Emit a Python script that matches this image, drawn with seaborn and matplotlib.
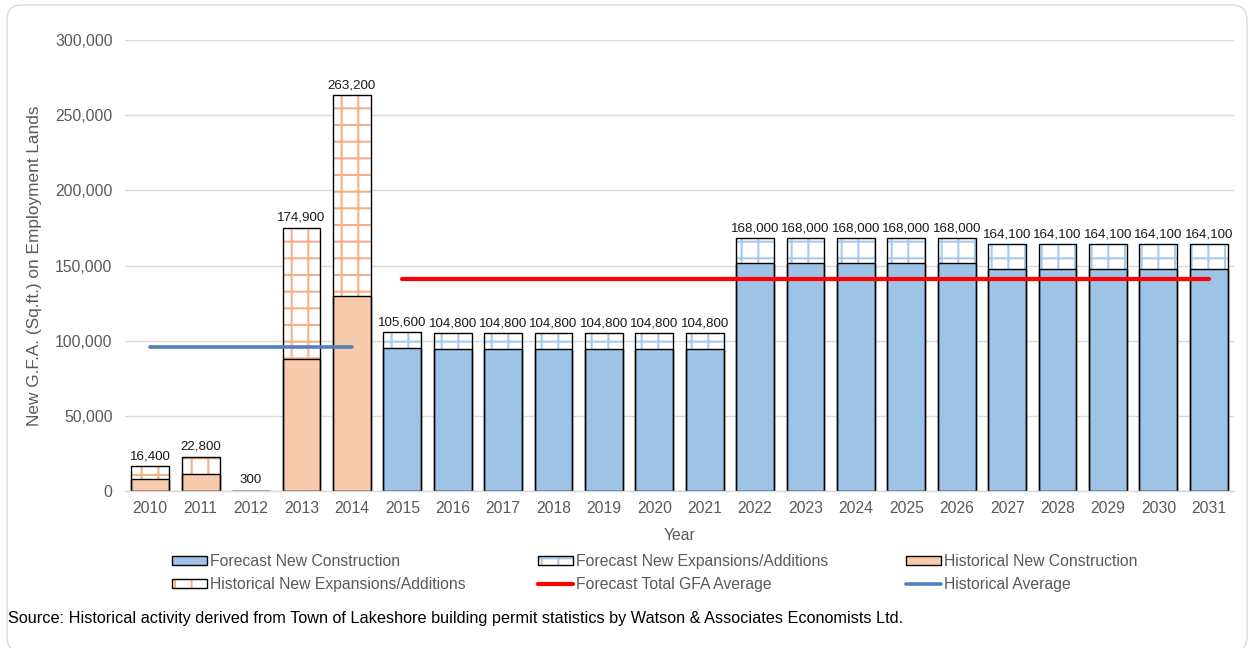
import matplotlib
matplotlib.use("Agg")
import matplotlib.pyplot as plt
from matplotlib.patches import Patch, FancyBboxPatch
from matplotlib.lines import Line2D
from matplotlib.legend_handler import HandlerTuple
from matplotlib.ticker import FixedLocator, FuncFormatter
import numpy as np
import pandas as pd
import seaborn as sns

# ---- data -------------------------------------------------------------
years = [str(y) for y in range(2010, 2032)]
period = ["Historical"] * 5 + ["Forecast"] * 17
new_construction = [8200, 11100, 0, 87500, 129700,
                    95200, 94400, 94400, 94400, 94400, 94400, 94400,
                    151400, 151400, 151400, 151400, 151400,
                    147800, 147800, 147800, 147800, 147800]
expansions = [8200, 11700, 300, 87400, 133500,
              10400, 10400, 10400, 10400, 10400, 10400, 10400,
              16600, 16600, 16600, 16600, 16600,
              16300, 16300, 16300, 16300, 16300]
y_ticks = [0, 50000, 100000, 150000, 200000, 250000, 300000]
source_note = ("Source: Historical activity derived from Town of Lakeshore building "
               "permit statistics by Watson & Associates Economists Ltd.")

df = pd.DataFrame({"year": years, "period": period,
                   "new_construction": new_construction,
                   "expansions": expansions})
df["total"] = df["new_construction"] + df["expansions"]
hist_avg = df.loc[df.period == "Historical", "total"].mean()
fcst_avg = df.loc[df.period == "Forecast", "total"].mean()

# ---- style ------------------------------------------------------------
sns.set_style("white")
plt.rcParams["font.family"] = ["Liberation Sans", "DejaVu Sans"]
plt.rcParams["hatch.linewidth"] = 1.5

BLUE = "#9DC3E6"
ORANGE = "#F8CBAD"
BLUE_HATCH = "#A9CBEA"
ORANGE_HATCH = "#F4B183"
GRID = "#D9D9D9"
TEXT = "#595959"
BAR_W = 0.75
FS = 11.3

fig = plt.figure(figsize=(12.48, 6.48), dpi=100)
ax = fig.add_axes([125 / 1248, 1 - 491 / 648, 1109 / 1248, 451 / 648])

# hatched expansion layer (drawn as the full stack height, covered below by new construction)
for per, hcol in (("Historical", ORANGE_HATCH), ("Forecast", BLUE_HATCH)):
    n0 = len(ax.patches)
    sns.barplot(data=df[df.period == per], x="year", y="total", order=years,
                color="white", saturation=1, width=BAR_W, linewidth=0,
                errorbar=None, ax=ax)
    for p in ax.patches[n0:]:
        p.set_hatch("+")
        p.set_edgecolor(hcol)
        p.set_linewidth(0)

# new construction layer
sns.barplot(data=df, x="year", y="new_construction", hue="period", order=years,
            hue_order=["Historical", "Forecast"],
            palette={"Historical": ORANGE, "Forecast": BLUE}, saturation=1,
            width=BAR_W, dodge=False, edgecolor="black", linewidth=1,
            errorbar=None, legend=False, ax=ax)

# black outline of the full stack
sns.barplot(data=df, x="year", y="total", order=years, fill=False, color="black",
            width=BAR_W, linewidth=1, errorbar=None, ax=ax)
ax.bar_label(ax.containers[-1], labels=[f"{v:,}" for v in df["total"]],
             padding=3, fontsize=9.6, color="#1A1A1A")

# period averages
sns.lineplot(x=[0, 4], y=[hist_avg, hist_avg], color="#4F81BD", linewidth=2.6,
             solid_capstyle="round", ax=ax)
sns.lineplot(x=[5, 21], y=[fcst_avg, fcst_avg], color="#FF0000", linewidth=3,
             solid_capstyle="round", ax=ax)

# ---- axes -------------------------------------------------------------
ax.set_xlim(-0.5, len(years) - 0.5)
ax.set_ylim(0, 300000)
ax.yaxis.set_major_locator(FixedLocator(y_ticks))
ax.yaxis.set_major_formatter(FuncFormatter(lambda v, _: f"{int(v):,}"))
ax.xaxis.set_major_locator(FixedLocator(range(len(years))))
ax.set_xticklabels(years)
ax.xaxis.set_minor_locator(FixedLocator(np.arange(-0.5, len(years), 1.0)))
ax.tick_params(axis="x", which="major", length=0, pad=7, labelsize=FS, labelcolor=TEXT)
ax.tick_params(axis="x", which="minor", length=4, width=1, color=GRID, direction="out")
ax.tick_params(axis="y", length=0, pad=9, labelsize=FS, labelcolor=TEXT)
ax.grid(axis="y", color=GRID, linewidth=1)
ax.set_axisbelow(True)
for s in ("top", "right", "left"):
    ax.spines[s].set_visible(False)
ax.spines["bottom"].set_color(GRID)
ax.spines["bottom"].set_linewidth(1)

ax.set_xlabel("Year", fontsize=FS, color=TEXT)
ax.xaxis.label.set_va("center")
ax.xaxis.set_label_coords(0.5, (491 - 535) / 451)
ax.set_ylabel("New G.F.A. (Sq.ft.) on Employment Lands", fontsize=12.4, color=TEXT)
ax.yaxis.label.set_va("center")
ax.yaxis.set_label_coords((35 - 125) / 1109, 0.5)

# ---- legend (three columns) -------------------------------------------
h_fnc = Patch(facecolor=BLUE, edgecolor="black", linewidth=1)
h_fne = (Patch(facecolor="white", edgecolor=BLUE_HATCH, hatch="+", linewidth=0),
         Patch(facecolor="none", edgecolor="black", linewidth=1))
h_hnc = Patch(facecolor=ORANGE, edgecolor="black", linewidth=1)
h_hne = (Patch(facecolor="white", edgecolor=ORANGE_HATCH, hatch="+", linewidth=0),
         Patch(facecolor="none", edgecolor="black", linewidth=1))
h_fta = Line2D([], [], color="#FF0000", linewidth=3, solid_capstyle="round")
h_ha = Line2D([], [], color="#4F81BD", linewidth=2.6, solid_capstyle="round")

columns = [
    (172, [h_fnc, h_hne], ["Forecast New Construction", "Historical New Expansions/Additions"]),
    (538, [h_fne, h_fta], ["Forecast New Expansions/Additions", "Forecast Total GFA Average"]),
    (906, [h_hnc, h_ha], ["Historical New Construction", "Historical Average"]),
]
for xpx, hs, ls in columns:
    fig.legend(hs, ls, loc="center left",
               bbox_to_anchor=(xpx / 1248, 1 - 573 / 648),
               frameon=False, fontsize=FS, labelcolor=TEXT,
               handlelength=2.25, handleheight=0.55, handletextpad=0.2,
               labelspacing=0.5, borderpad=0, borderaxespad=0,
               handler_map={tuple: HandlerTuple(ndivide=1, pad=0)})

fig.text(8 / 1248, 1 - 618 / 648, source_note, fontsize=11.7, color="black",
         va="center", ha="left")

# rounded chart-area border
fig.patches.append(FancyBboxPatch((0.07, -0.04), 12.40, 6.47,
                                  boxstyle="round,pad=0,rounding_size=0.15",
                                  transform=fig.dpi_scale_trans, facecolor="none",
                                  edgecolor=GRID, linewidth=1))

fig.savefig("out.png", dpi=100)
